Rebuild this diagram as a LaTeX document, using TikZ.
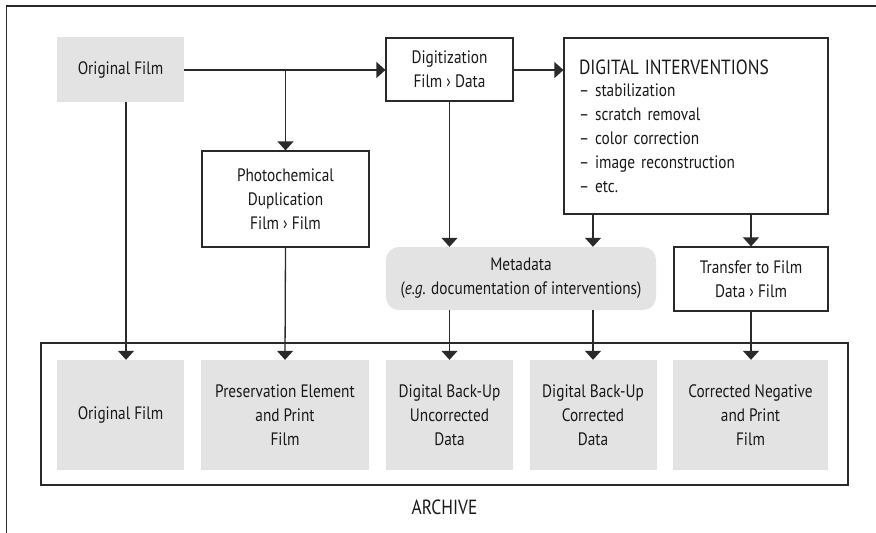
\documentclass[tikz,border=0pt]{standalone}
\usepackage{fontspec}
\setmainfont{PT Sans}[FakeStretch=0.85]
\usetikzlibrary{arrows.meta,calc}
\definecolor{boxgray}{HTML}{E2E3E2}
\definecolor{linec}{HTML}{2A2A2A}
\tikzset{
  base/.style={inner sep=0pt, align=center, font=\fontsize{18}{24}\selectfont, text=black!90},
  wbox/.style={base, draw=linec, line width=1.2pt, fill=white},
  gbox/.style={base, fill=boxgray},
  arr/.style={draw=linec, line width=1.3pt, -{Triangle[width=16pt,length=9pt]}},
  ln/.style={draw=linec, line width=1.3pt},
}
\begin{document}
\begin{tikzpicture}[x=1pt,y=-1pt]
\useasboundingbox (0,0) rectangle (876,533);
% outer frame (partial)
\draw[ln, line width=1.4pt] (876,6) -- (6.5,6) -- (6.5,533);
% archive frame
\node[wbox, minimum width=807pt, minimum height=142pt] (arch) at (444.5,414) {};
\node[base, font=\fontsize{20.5}{24}\selectfont] (archlbl) at (444.5,507) {ARCHIVE};
% top row
\node[gbox, minimum width=127pt, minimum height=65pt] (of1) at (120.5,69.5) {Original Film};
\node[wbox, minimum width=127pt, minimum height=63pt] (dig) at (449.5,69.5) {Digitization\\Film › Data};
\node[wbox, minimum width=264pt, minimum height=176pt, text width=234pt, align=left, inner xsep=15pt] (di) at (696,126)
  {{\fontsize{20.5}{24}\selectfont DIGITAL INTERVENTIONS}\\[-2pt]– stabilization\\– scratch removal\\– color correction\\– image reconstruction\\– etc.};
\node[wbox, minimum width=167pt, minimum height=96pt] (photo) at (285.5,199) {Photochemical\\Duplication\\Film › Film};
\node[gbox, rounded corners=13pt, minimum width=270pt, minimum height=63pt] (meta) at (521,278.5) {Metadata\\(\textit{e.g.} documentation of interventions)};
\node[wbox, minimum width=154pt, minimum height=64pt] (trans) at (751,279) {Transfer to Film\\Data › Film};
% bottom row
\node[gbox, minimum width=127pt, minimum height=110pt] (bof) at (120.5,415) {Original Film};
\node[gbox, minimum width=168pt, minimum height=110pt] (bpres) at (285,415) {Preservation Element\\and Print\\Film};
\node[gbox, minimum width=127pt, minimum height=110pt] (bunc) at (449.5,415) {Digital Back-Up\\Uncorrected\\Data};
\node[gbox, minimum width=127pt, minimum height=110pt] (bcor) at (593,415) {Digital Back-Up\\Corrected\\Data};
\node[gbox, minimum width=155pt, minimum height=110pt] (bneg) at (750.5,415) {Corrected Negative\\and Print\\Film};
% connectors
\coordinate (split) at (285.5,70);
\draw[arr] (of1.east |- split) -- (dig.west |- split);
\draw[arr] (split) -- (photo.north);
\draw[arr] ([xshift=5.5pt]of1.south) -- ([xshift=5.5pt]bof.north);
\draw[arr] (dig.east |- split) -- (di.west |- split);
\draw[arr] (dig.south) -- (dig.south |- meta.north);
\draw[arr] (bcor.north |- di.south) -- (bcor.north |- meta.north);
\draw[arr] (trans.north |- di.south) -- (trans.north);
\draw[arr] (photo.south) -- (bpres.north);
\draw[arr] (bunc.north |- meta.south) -- (bunc.north);
\draw[arr] (bcor.north |- meta.south) -- (bcor.north);
\draw[arr] (trans.south) -- (trans.south |- bneg.north);
\end{tikzpicture}
\end{document}
